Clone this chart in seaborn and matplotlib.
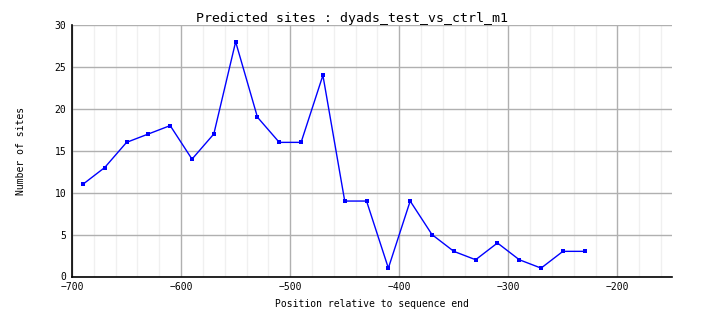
import matplotlib
matplotlib.use("Agg")
import matplotlib.pyplot as plt
import seaborn as sns
import pandas as pd
from matplotlib.ticker import MultipleLocator

positions = [-690, -670, -650, -630, -610, -590, -570, -550, -530, -510, -490, -470,
             -450, -430, -410, -390, -370, -350, -330, -310, -290, -270, -250, -230]
sites = [11, 13, 16, 17, 18, 14, 17, 28, 19, 16, 16, 24,
         9, 9, 1, 9, 5, 3, 2, 4, 2, 1, 3, 3]
x_ticks = [-700, -600, -500, -400, -300, -200]
y_ticks = [0, 5, 10, 15, 20, 25, 30]

df = pd.DataFrame({"pos": positions, "n": sites})

sns.set_style("white")
plt.rcParams['font.family'] = ['DejaVu Sans Mono']
plt.rcParams['text.color'] = 'black'
plt.rcParams['axes.labelcolor'] = 'black'

fig = plt.figure(figsize=(7.04, 3.28), dpi=100)
ax = fig.add_axes([72/704, 1-276.5/328, 600/704, 251.5/328])

sns.lineplot(data=df, x="pos", y="n", ax=ax, color="#0000ff", linewidth=1,
             marker="s", markersize=3.2, markeredgewidth=0, zorder=5)

ax.set_xlim(-700, -150)
ax.set_ylim(0, 30)
ax.set_xticks(x_ticks)
ax.set_yticks(y_ticks)
ax.xaxis.set_minor_locator(MultipleLocator(20))
ax.grid(which="major", color="#b0b0b0", linewidth=1)
ax.grid(which="minor", axis="x", color="#f0f0f0", linewidth=1)
ax.set_axisbelow(True)
ax.tick_params(which="both", length=0, labelsize=7, pad=4, colors="black")
for s in ["top", "right"]:
    ax.spines[s].set_visible(False)
for s in ["left", "bottom"]:
    ax.spines[s].set_color("black")
    ax.spines[s].set_linewidth(1.2)

ax.set_xlabel("Position relative to sequence end", fontsize=7, labelpad=5, color="black")
ax.set_ylabel("Number of sites", fontsize=7, labelpad=21, color="black")
fig.suptitle("Predicted sites : dyads_test_vs_ctrl_m1", x=0.5, y=0.962, fontsize=9.5, color="black")

fig.savefig("out.png", dpi=100)
